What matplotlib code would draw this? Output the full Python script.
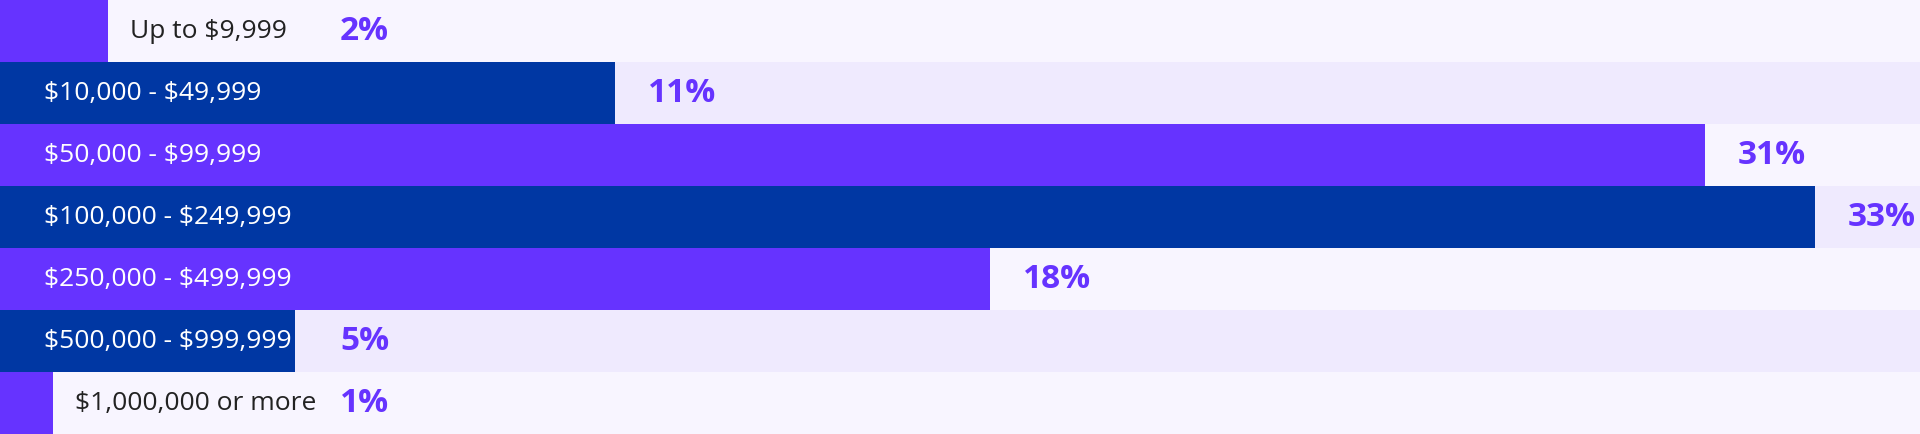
import matplotlib
matplotlib.use('Agg')
import matplotlib.pyplot as plt

# DATA #####
categories = ['Up to $9,999', '$10,000 - $49,999', '$50,000 - $99,999',
              '$100,000 - $249,999', '$250,000 - $499,999',
              '$500,000 - $999,999', '$1,000,000 or more']
shares = [1.96, 11.18, 31.0, 33.0, 18.0, 5.36, 0.96]  # percent
labels = ['2%', '11%', '31%', '33%', '18%', '5%', '1%']

# styles
purple = '#6633FF'
navy = '#0037A3'
bg_light = '#F8F5FF'
bg_dark = '#EFEAFE'
bar_colors = [purple if i % 2 == 0 else navy for i in range(len(shares))]
bg_colors = [bg_light if i % 2 == 0 else bg_dark for i in range(len(shares))]

plt.rcParams['font.family'] = ['Open Sans', 'DejaVu Sans']
plt.rcParams['text.parse_math'] = False  # dollar signs are plain text

W, H, dpi = 1920, 434, 100
fig = plt.figure(figsize=(W / dpi, H / dpi), dpi=dpi)
ax = fig.add_axes([0, 0, 1, 1])
px_per_unit = 55.0
xmax = W / px_per_unit
ax.set_xlim(0, xmax)
ax.set_ylim(len(shares) - 0.5, -0.5)
ax.set_axis_off()

y = list(range(len(shares)))
ax.barh(y, [xmax] * len(shares), height=1.0, color=bg_colors, zorder=1)
ax.barh(y, shares, height=1.0, color=bar_colors, zorder=2)

pad_in = 44 / px_per_unit      # text inset inside bar
pad_out = 22 / px_per_unit     # gap after bar / text
min_label_x = 340 / px_per_unit

fig.canvas.draw()
renderer = fig.canvas.get_renderer()
inv = ax.transData.inverted()

for i, (cat, val, lab) in enumerate(zip(categories, shares, labels)):
    t = ax.text(pad_in, i, cat, ha='left', va='center', fontsize=19,
                color='white', zorder=3)
    bb = t.get_window_extent(renderer)
    text_end = inv.transform((bb.x1, 0))[0]
    if text_end > val:
        # category does not fit in the bar, put it after the bar
        t.set_x(val + pad_out)
        t.set_color('#222222')
        bb = t.get_window_extent(renderer)
        text_end = inv.transform((bb.x1, 0))[0]
        lx = max(text_end + pad_out, min_label_x)
    else:
        lx = max(val + pad_out * 1.5, min_label_x)
    ax.text(lx, i, lab, ha='left', va='center', fontsize=24,
            fontweight='bold', color=purple, zorder=3)

fig.savefig('out.png', dpi=dpi)
